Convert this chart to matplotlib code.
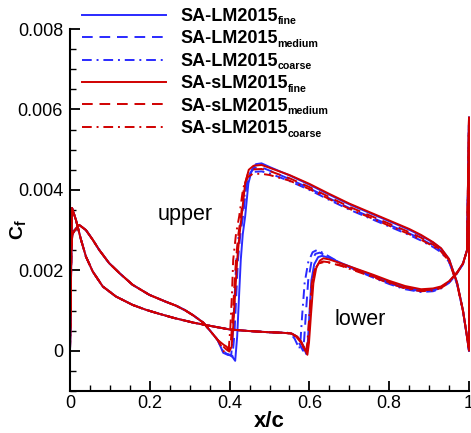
import numpy as np
import matplotlib.pyplot as plt
from matplotlib.ticker import MultipleLocator, FuncFormatter

plt.rcParams['font.family'] = ['Liberation Sans', 'DejaVu Sans']
plt.rcParams['mathtext.fontset'] = 'custom'
plt.rcParams['mathtext.rm'] = 'Liberation Sans'
plt.rcParams['mathtext.bf'] = 'Liberation Sans:bold'

# ─── shared laminar parts (all six runs lie on top of each other) ───
UP_LAM_X = [0.0, 0.002, 0.006, 0.012, 0.023, 0.04, 0.057, 0.073, 0.098, 0.124,
            0.157, 0.199, 0.24, 0.266, 0.288, 0.309, 0.334, 0.351, 0.37]
UP_LAM_CF = [0.0, 0.0024, 0.0029, 0.003, 0.00313, 0.003, 0.00276, 0.00251, 0.00218, 0.00193,
             0.00164, 0.00139, 0.00122, 0.00112, 0.00101, 0.00088, 0.0007, 0.0005, 0.00027]
LO_LAM_X = [0.0, 0.005, 0.015, 0.0276, 0.04, 0.057, 0.082, 0.115, 0.157, 0.19,
            0.22, 0.259, 0.309, 0.351, 0.40, 0.45, 0.50, 0.53]
LO_LAM_CF = [0.0, 0.00355, 0.00325, 0.00276, 0.00234, 0.00197, 0.0016, 0.00135, 0.00114, 0.00102,
             0.00093, 0.00082, 0.0007, 0.00062, 0.00053, 0.00049, 0.00046, 0.00045]

# ─── turbulent grids ───
UP_TURB_X = [0.48, 0.50, 0.55, 0.60, 0.65, 0.70, 0.75, 0.80, 0.85, 0.88, 0.91,
             0.93, 0.95, 0.97, 0.985, 0.995, 1.0]
LO_TURB_X = [0.65, 0.68, 0.72, 0.76, 0.80, 0.84, 0.88, 0.91, 0.93, 0.95, 0.97,
             0.985, 0.995, 1.0]

# ─── SA-LM2015 ───
LM_FINE_UP_TR_X = [0.384, 0.395, 0.405, 0.414, 0.419, 0.424, 0.428, 0.433, 0.439, 0.447, 0.456, 0.466]
LM_FINE_UP_TR_CF = [-0.00005, -0.0001, -0.00012, -0.00025, 0.00036, 0.00143, 0.00226, 0.0029, 0.00334, 0.00416, 0.0045, 0.00464]
LM_FINE_UP_CF = [0.00466, 0.00457, 0.00436, 0.00413, 0.00388, 0.00364, 0.00343, 0.00322, 0.00301, 0.00286, 0.00269,
                 0.00254, 0.00228, 0.0017, 0.001, 0.00035, 0.0]
LM_FINE_LO_TR_X = [0.555, 0.568, 0.578, 0.586, 0.592, 0.596, 0.600, 0.605, 0.612, 0.622, 0.632]
LM_FINE_LO_TR_CF = [0.00043, 0.00036, 0.00024, 0.0001, -0.00008, 0.0002, 0.0009, 0.00175, 0.00215, 0.00233, 0.00236]
LM_FINE_LO_CF = [0.00231, 0.00218, 0.00202, 0.00187, 0.00171, 0.00158, 0.0015, 0.00152, 0.00158, 0.00171, 0.00194,
                 0.00217, 0.0025, 0.0058]

LM_MED_UP_TR_X = [0.384, 0.393, 0.401, 0.407, 0.412, 0.417, 0.421, 0.427, 0.433, 0.442, 0.452, 0.463]
LM_MED_UP_TR_CF = [0.0, -0.00008, -0.0001, -0.00015, 0.0004, 0.00143, 0.00226, 0.0029, 0.0033, 0.0041, 0.00443, 0.00455]
LM_MED_UP_CF = [0.00456, 0.00448, 0.00427, 0.00404, 0.00379, 0.00355, 0.00334, 0.00313, 0.00292, 0.00278, 0.00262,
                0.00248, 0.00224, 0.00168, 0.00099, 0.00035, 0.0]
LM_MED_LO_TR_X = [0.550, 0.560, 0.570, 0.578, 0.584, 0.587, 0.591, 0.597, 0.605, 0.615, 0.626]
LM_MED_LO_TR_CF = [0.00044, 0.0004, 0.00028, 0.00012, 0.0, 0.0003, 0.0009, 0.00175, 0.0022, 0.00241, 0.00244]
LM_MED_LO_CF = [0.00232, 0.00217, 0.002, 0.00184, 0.00168, 0.00155, 0.00148, 0.0015, 0.00156, 0.0017, 0.00193,
                0.00216, 0.0025, 0.0058]

LM_COARSE_UP_TR_X = [0.383, 0.391, 0.398, 0.404, 0.408, 0.413, 0.417, 0.423, 0.430, 0.440, 0.450, 0.462]
LM_COARSE_UP_TR_CF = [0.0, -0.00006, -0.0001, -0.00012, 0.0004, 0.00143, 0.00226, 0.0029, 0.00328, 0.00405, 0.00435, 0.00445]
LM_COARSE_UP_CF = [0.00446, 0.00441, 0.00422, 0.004, 0.00375, 0.00351, 0.0033, 0.00309, 0.00288, 0.00274, 0.00258,
                   0.00245, 0.00221, 0.00166, 0.00098, 0.00035, 0.0]
LM_COARSE_LO_TR_X = [0.545, 0.555, 0.563, 0.570, 0.575, 0.578, 0.582, 0.588, 0.597, 0.608, 0.620]
LM_COARSE_LO_TR_CF = [0.00045, 0.0004, 0.0003, 0.00015, 0.00005, 0.0003, 0.0009, 0.00168, 0.0022, 0.00245, 0.00251]
LM_COARSE_LO_CF = [0.00234, 0.00217, 0.00199, 0.00182, 0.00166, 0.00153, 0.00146, 0.00148, 0.00155, 0.00169, 0.00192,
                   0.00216, 0.0025, 0.0058]

# ─── SA-sLM2015 ───
SLM_FINE_UP_TR_X = [0.385, 0.393, 0.399, 0.405, 0.409, 0.414, 0.419, 0.425, 0.430, 0.439, 0.448, 0.460]
SLM_FINE_UP_TR_CF = [0.00015, 0.0001, -0.00002, 0.0001, 0.0006, 0.00143, 0.00226, 0.0029, 0.00334, 0.00416, 0.0045, 0.0046]
SLM_FINE_UP_CF = [0.00462, 0.00455, 0.00437, 0.00415, 0.0039, 0.00366, 0.00345, 0.00324, 0.00303, 0.00288, 0.0027,
                  0.00255, 0.00228, 0.0017, 0.001, 0.00035, 0.0]
SLM_FINE_LO_TR_X = [0.555, 0.570, 0.580, 0.588, 0.595, 0.599, 0.604, 0.610, 0.617, 0.626, 0.635]
SLM_FINE_LO_TR_CF = [0.00043, 0.00035, 0.00022, 0.00005, -0.0001, 0.0002, 0.0009, 0.00168, 0.00205, 0.00224, 0.0023]
SLM_FINE_LO_CF = [0.00227, 0.00217, 0.00203, 0.00189, 0.00174, 0.00161, 0.00153, 0.00155, 0.0016, 0.00173, 0.00195,
                  0.00217, 0.0025, 0.0058]

SLM_MED_UP_TR_X = [0.383, 0.390, 0.396, 0.402, 0.406, 0.411, 0.416, 0.422, 0.428, 0.436, 0.446, 0.458]
SLM_MED_UP_TR_CF = [0.00012, 0.00005, 0.0, 0.00008, 0.0006, 0.00143, 0.00226, 0.0029, 0.0033, 0.00408, 0.0044, 0.00451]
SLM_MED_UP_CF = [0.00452, 0.00447, 0.00429, 0.00407, 0.00382, 0.00358, 0.00337, 0.00316, 0.00295, 0.00281, 0.00264,
                 0.0025, 0.00225, 0.00168, 0.00099, 0.00035, 0.0]
SLM_MED_LO_TR_X = [0.555, 0.568, 0.578, 0.586, 0.593, 0.597, 0.602, 0.607, 0.614, 0.624, 0.634]
SLM_MED_LO_TR_CF = [0.00043, 0.00035, 0.00022, 0.00008, -0.00005, 0.0002, 0.0009, 0.00168, 0.00203, 0.00218, 0.00222]
SLM_MED_LO_CF = [0.0022, 0.00212, 0.00199, 0.00185, 0.0017, 0.00157, 0.0015, 0.00152, 0.00158, 0.00171, 0.00194,
                 0.00217, 0.0025, 0.0058]

SLM_COARSE_UP_TR_X = [0.380, 0.387, 0.393, 0.398, 0.402, 0.406, 0.409, 0.416, 0.424, 0.434, 0.446, 0.458]
SLM_COARSE_UP_TR_CF = [0.0001, -0.00005, 0.0, 0.00005, 0.0006, 0.00143, 0.00226, 0.0029, 0.00334, 0.00405, 0.00432, 0.0044]
SLM_COARSE_UP_CF = [0.0044, 0.00437, 0.00423, 0.00402, 0.00377, 0.00353, 0.00332, 0.00311, 0.0029, 0.00276, 0.0026,
                    0.00247, 0.00222, 0.00166, 0.00098, 0.00035, 0.0]
SLM_COARSE_LO_TR_X = [0.555, 0.566, 0.576, 0.584, 0.591, 0.595, 0.600, 0.606, 0.613, 0.623, 0.634]
SLM_COARSE_LO_TR_CF = [0.00043, 0.00036, 0.00024, 0.0001, -0.00003, 0.0002, 0.0009, 0.00168, 0.00202, 0.00217, 0.0022]
SLM_COARSE_LO_CF = [0.00219, 0.00211, 0.00197, 0.00183, 0.00168, 0.00155, 0.00148, 0.0015, 0.00156, 0.0017, 0.00193,
                    0.00216, 0.0025, 0.0058]

MODELS = ['SA-LM2015', 'SA-LM2015', 'SA-LM2015', 'SA-sLM2015', 'SA-sLM2015', 'SA-sLM2015']
GRIDS = ['fine', 'medium', 'coarse', 'fine', 'medium', 'coarse']
# ──────────────────────────────────────────────────────────

BLUE = '#2a2aff'
RED = '#d00000'
SOLID = '-'
DASH = (0, (5.5, 3.5))
DASHDOT = (0, (5, 2.5, 1, 2.5))


def loop(lo_tr_x, lo_tr_cf, lo_cf, up_tr_x, up_tr_cf, up_cf):
    """lower surface LE->TE, then upper surface TE->LE (closed like the Tecplot zone)"""
    x_lo = np.concatenate([LO_LAM_X, lo_tr_x, LO_TURB_X])
    c_lo = np.concatenate([LO_LAM_CF, lo_tr_cf, lo_cf])
    x_up = np.concatenate([UP_LAM_X, up_tr_x, UP_TURB_X])
    c_up = np.concatenate([UP_LAM_CF, up_tr_cf, up_cf])
    return np.concatenate([x_lo, x_up[::-1]]), np.concatenate([c_lo, c_up[::-1]])


runs = [
    (LM_FINE_LO_TR_X, LM_FINE_LO_TR_CF, LM_FINE_LO_CF, LM_FINE_UP_TR_X, LM_FINE_UP_TR_CF, LM_FINE_UP_CF),
    (LM_MED_LO_TR_X, LM_MED_LO_TR_CF, LM_MED_LO_CF, LM_MED_UP_TR_X, LM_MED_UP_TR_CF, LM_MED_UP_CF),
    (LM_COARSE_LO_TR_X, LM_COARSE_LO_TR_CF, LM_COARSE_LO_CF, LM_COARSE_UP_TR_X, LM_COARSE_UP_TR_CF, LM_COARSE_UP_CF),
    (SLM_FINE_LO_TR_X, SLM_FINE_LO_TR_CF, SLM_FINE_LO_CF, SLM_FINE_UP_TR_X, SLM_FINE_UP_TR_CF, SLM_FINE_UP_CF),
    (SLM_MED_LO_TR_X, SLM_MED_LO_TR_CF, SLM_MED_LO_CF, SLM_MED_UP_TR_X, SLM_MED_UP_TR_CF, SLM_MED_UP_CF),
    (SLM_COARSE_LO_TR_X, SLM_COARSE_LO_TR_CF, SLM_COARSE_LO_CF, SLM_COARSE_UP_TR_X, SLM_COARSE_UP_TR_CF, SLM_COARSE_UP_CF),
]
colors = [BLUE, BLUE, BLUE, RED, RED, RED]
styles = [SOLID, DASH, DASHDOT, SOLID, DASH, DASHDOT]

fig = plt.figure(figsize=(4.71, 4.33), dpi=100)
ax = fig.add_axes([70 / 471, 42 / 433, 399 / 471, 362 / 433])

handles = []
for data, col, ls, model in zip(runs, colors, styles, MODELS):
    x, cf = loop(*data)
    h, = ax.plot(x, cf, color=col, linestyle=ls, linewidth=1.4, clip_on=False, label=model)
    handles.append(h)

ax.set_xlim(0, 1)
ax.set_ylim(-0.001, 0.008)
ax.xaxis.set_major_locator(MultipleLocator(0.2))
ax.xaxis.set_minor_locator(MultipleLocator(0.05))
ax.yaxis.set_major_locator(MultipleLocator(0.002))
ax.yaxis.set_minor_locator(MultipleLocator(0.0005))
fmt = FuncFormatter(lambda v, p: '0' if abs(v) < 1e-12 else f'{v:g}')
ax.xaxis.set_major_formatter(fmt)
ax.yaxis.set_major_formatter(fmt)
ax.set_yticks([0, 0.002, 0.004, 0.006, 0.008])

for s in ['top', 'right']:
    ax.spines[s].set_visible(False)
for s in ['left', 'bottom']:
    ax.spines[s].set_linewidth(1.5)
ax.tick_params(which='major', direction='in', length=7, width=1.3, labelsize=13)
ax.tick_params(which='minor', direction='in', length=4.3, width=1.0)
ax.tick_params(axis='y', which='major', pad=5)
ax.tick_params(axis='x', which='major', pad=3)

ax.set_xlabel('x/c', fontsize=16, fontweight='bold')
ax.set_ylabel(r'$\mathbf{C_f}$', fontsize=14)
ax.yaxis.set_label_coords(-0.105, 0.447)
ax.xaxis.set_label_coords(0.5, -0.056)

ax.text(0.22, 0.00325, 'upper', fontsize=15.5, va='baseline', ha='left')
ax.text(0.664, 0.00065, 'lower', fontsize=15.5, va='baseline', ha='left')

leg = fig.legend(handles, MODELS, loc='upper left', bbox_to_anchor=(82 / 471, 1 - 8 / 433),
                 frameon=False, borderpad=0, borderaxespad=0, handlelength=4.65,
                 handletextpad=0.83, labelspacing=0.3, prop={'weight': 'bold', 'size': 13})

# grid-size subscripts after each legend label
fig.canvas.draw()
rend = fig.canvas.get_renderer()
for t, g in zip(leg.get_texts(), GRIDS):
    bb = t.get_window_extent(rend)
    fx, fy = fig.transFigure.inverted().transform((bb.x1 - 1, bb.y0 + 0.5))
    fig.text(fx, fy, g, fontsize=7.7, fontweight='bold', va='baseline', ha='left')

fig.savefig('out.png', dpi=100)
